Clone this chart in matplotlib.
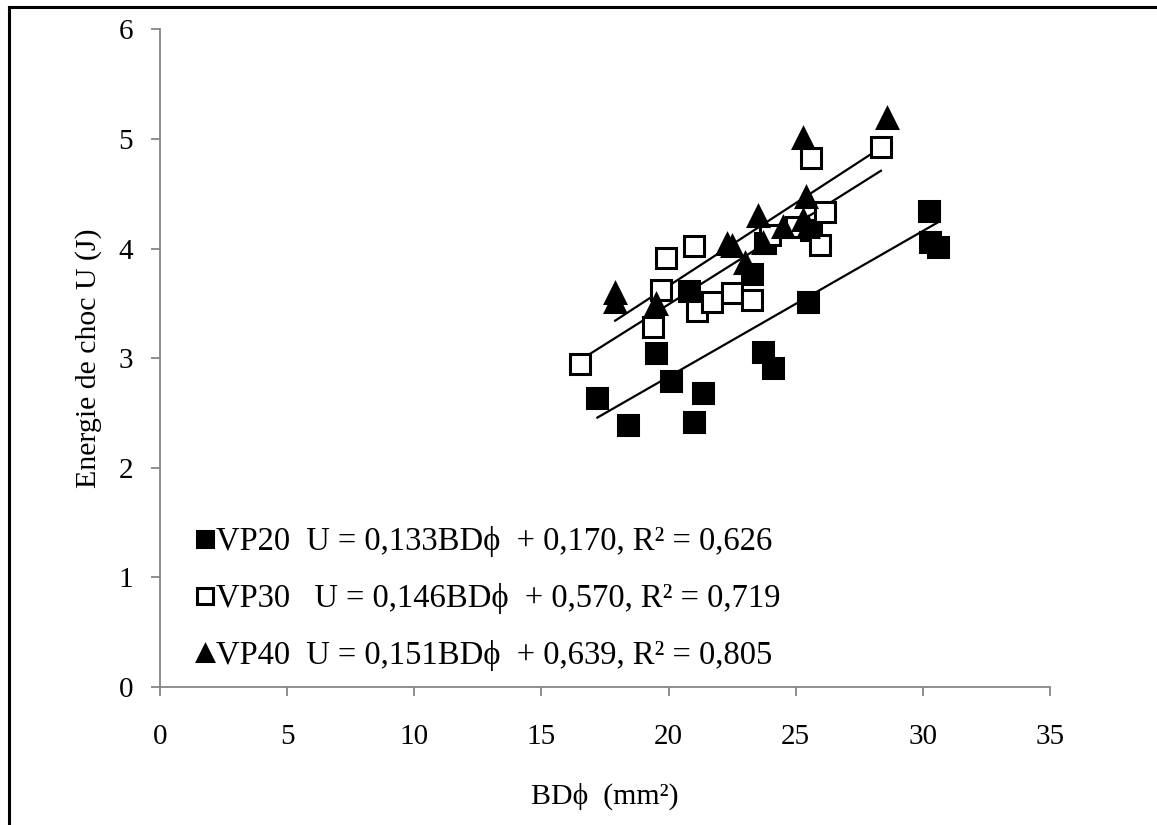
import numpy as np
import matplotlib
matplotlib.use("Agg")
import matplotlib.pyplot as plt
from matplotlib.lines import Line2D

plt.rcParams['font.family'] = ['Liberation Serif', 'DejaVu Serif']

# ---- data ----
vp20_x = [17.2, 18.4, 19.5, 20.1, 20.8, 21.0, 21.35, 23.3, 23.7, 24.1, 23.8, 25.5, 25.6, 30.25, 30.3, 30.6]
vp20_y = [2.64, 2.39, 3.05, 2.79, 3.61, 2.42, 2.68, 3.77, 3.06, 2.91, 4.05, 3.51, 4.17, 4.34, 4.06, 4.01]

vp30_x = [16.5, 19.4, 19.7, 19.9, 21.0, 21.1, 21.7, 22.5, 23.3, 24.0, 25.0, 25.6, 25.95, 26.15, 28.35]
vp30_y = [2.95, 3.28, 3.62, 3.91, 4.02, 3.43, 3.51, 3.59, 3.53, 4.12, 4.20, 4.83, 4.03, 4.33, 4.93]

vp40_x = [17.9, 17.9, 19.5, 22.3, 22.5, 23.0, 23.5, 23.7, 24.5, 25.3, 25.4, 25.3, 25.5, 28.6]
vp40_y = [3.59, 3.51, 3.49, 4.04, 4.02, 3.87, 4.30, 4.05, 4.20, 5.01, 4.47, 4.26, 4.20, 5.19]

names = ["VP20", "VP30", "VP40"]
slopes = [0.133, 0.146, 0.151]
intercepts = [0.170, 0.570, 0.639]
r2 = [0.626, 0.719, 0.805]
gaps = ["  ", "   ", "  "]   # spacing between series name and equation

xs = [vp20_x, vp30_x, vp40_x]
ys = [vp20_y, vp30_y, vp40_y]
markers = ["s", "s", "^"]
faces = ["black", "white", "black"]

fig = plt.figure(figsize=(11.57, 8.25), dpi=100)
ax = fig.add_axes([0.1383, 0.1673, 0.7692, 0.7972])

handles = []
for x, y, m, fc, name, a, b, r, g in zip(xs, ys, markers, faces, names,
                                          slopes, intercepts, r2, gaps):
    eq = f"U = {a:.3f}BDϕ  + {b:.3f}, R² = {r:.3f}".replace(".", ",")
    h, = ax.plot(x, y, linestyle="none", marker=m, markersize=14,
                 markerfacecolor=fc, markeredgecolor="black", markeredgewidth=2.2,
                 label=name + g + eq, zorder=3)
    handles.append(h)

# trendlines from the fitted equations
for x, a, b in zip(xs, slopes, intercepts):
    xx = np.array([min(x), max(x)])
    ax.plot(xx, a * xx + b, color="black", lw=1.6, zorder=2)

ax.set_xlim(0, 35)
ax.set_ylim(0, 6)
ax.set_xticks(range(0, 36, 5))
ax.set_yticks(range(0, 7))

for s in ["top", "right"]:
    ax.spines[s].set_visible(False)
for s in ["left", "bottom"]:
    ax.spines[s].set_color("#868686")
    ax.spines[s].set_linewidth(1.3)
ax.tick_params(axis="x", direction="out", length=6.5, width=1.3, color="#868686",
               labelsize=21, pad=20)
ax.tick_params(axis="y", direction="out", length=6.5, width=1.3, color="#868686",
               labelsize=21, pad=13)

ax.set_xlabel("BDϕ  (mm²)", fontsize=21.5, labelpad=24)
ax.set_ylabel("Energie de choc U (J)", fontsize=21.5, labelpad=12)

leg = ax.legend(handles=handles, loc="lower left", bbox_to_anchor=(0.041, 0.024),
                frameon=False, fontsize=23.5, handlelength=0.55, handletextpad=0.05,
                labelspacing=0.8, markerscale=0.85, borderaxespad=0, borderpad=0)

# outer frame (left and top edges)
fig.add_artist(Line2D([9 / 1157, 9 / 1157], [0, 1 - 7 / 825], color="black", lw=2.2,
                      transform=fig.transFigure))
fig.add_artist(Line2D([9 / 1157, 1], [1 - 7 / 825, 1 - 7 / 825], color="black", lw=2.2,
                      transform=fig.transFigure))

fig.savefig("out.png", dpi=100)
